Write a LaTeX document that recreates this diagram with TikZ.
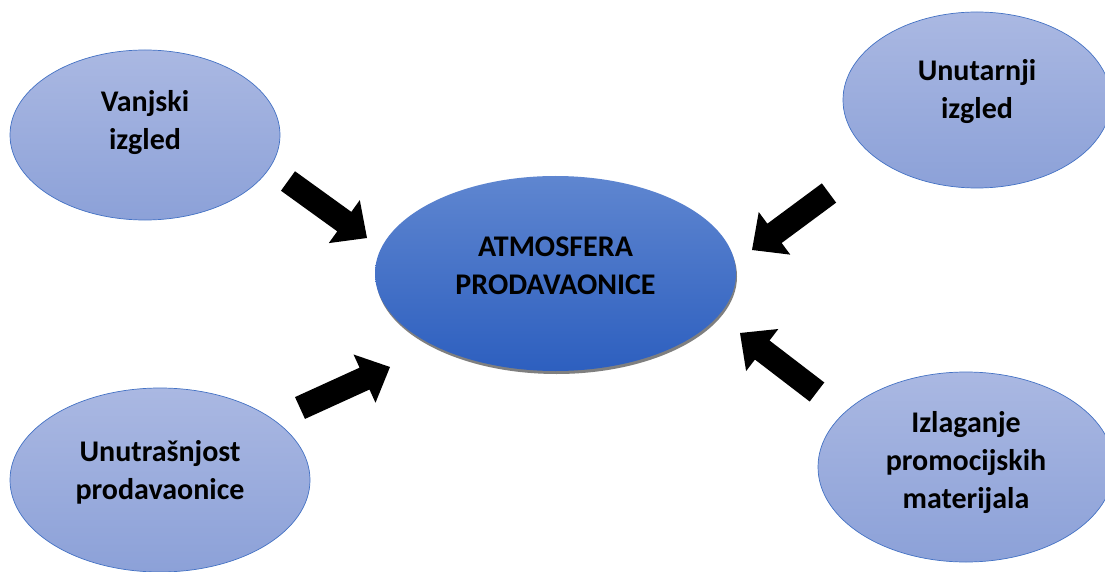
\documentclass[tikz,border=0pt]{standalone}
\usepackage{fontspec}
\setmainfont{Carlito}
\usetikzlibrary{shapes.geometric,calc}
\definecolor{outTop}{HTML}{AAB8E2}
\definecolor{outBot}{HTML}{8CA1D8}
\definecolor{outLine}{HTML}{4472C4}
\definecolor{cenTop}{HTML}{5F86D0}
\definecolor{cenBot}{HTML}{2D5FBF}
\definecolor{shadowGray}{HTML}{7F7F7F}
\tikzset{
  outerell/.style={ellipse, draw=outLine, line width=0.7pt, top color=outTop, bottom color=outBot, inner sep=0pt},
  hubell/.style={ellipse, top color=cenTop, bottom color=cenBot, inner sep=0pt},
  lbl/.style={font=\bfseries\fontsize{30}{38}\selectfont, align=center, inner sep=0pt, text=black},
  arrowfill/.style={fill=black}
}
\newcommand\blockarrow[2]{%
  \coordinate (#1h) at ($(#2)!28pt!(#1)$);
  \fill[arrowfill] ($(#1)!12pt!90:(#2)$) -- ($(#1h)!12pt!90:(#2)$) -- ($(#1h)!26.5pt!90:(#2)$) -- (#2)
    -- ($(#1h)!26.5pt!-90:(#2)$) -- ($(#1h)!12pt!-90:(#2)$) -- ($(#1)!12pt!-90:(#2)$) -- cycle;}
\begin{document}
\begin{tikzpicture}[x=1pt,y=-1pt]
\useasboundingbox (0,0) rectangle (1105,572);
\clip (0,0) rectangle (1105,572);
\fill[white] (0,0) rectangle (1105,572);
% outer ellipses
\node[outerell, minimum width=270pt, minimum height=170pt] (e1) at (145,135) {};
\node[outerell, minimum width=268pt, minimum height=176pt] (e2) at (977,100) {};
\node[outerell, minimum width=300pt, minimum height=184pt] (e3) at (160,480) {};
\node[outerell, minimum width=296pt, minimum height=190pt] (e4) at (966,467) {};
% central ellipse with shadow
\fill[shadowGray] (556.5,276.5) ellipse [x radius=180.5pt, y radius=97.5pt];
\node[hubell, minimum width=361pt, minimum height=195pt] (hub) at (555.5,273.5) {};
% texts
\node[lbl] (t1) at ([yshift=12pt]e1.center) {Vanjski\\izgled};
\node[lbl] (t2) at ([yshift=8pt]e2.center) {Unutarnji\\izgled};
\node[lbl] (t3) at ([yshift=8pt]e3.center) {Unutrašnjost\\prodavaonice};
\node[lbl] (t4) at ([yshift=4pt]e4.center) {Izlaganje\\promocijskih\\materijala};
\node[lbl] (t0) at ([yshift=8pt]hub.center) {ATMOSFERA\\PRODAVAONICE};
% arrows
\coordinate (a1t) at (288,181); \coordinate (a1p) at (367,238);
\coordinate (a2t) at (829,193); \coordinate (a2p) at (752,250);
\coordinate (a3t) at (300,408); \coordinate (a3p) at (390,367);
\coordinate (a4t) at (817,392); \coordinate (a4p) at (740,333);
\blockarrow{a1t}{a1p}
\blockarrow{a2t}{a2p}
\blockarrow{a3t}{a3p}
\blockarrow{a4t}{a4p}
\end{tikzpicture}
\end{document}
